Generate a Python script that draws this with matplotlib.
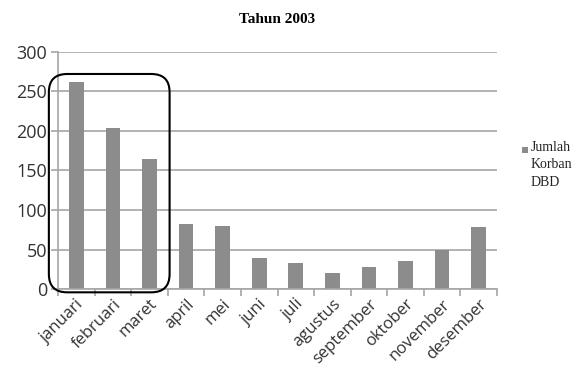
import matplotlib
matplotlib.use("Agg")
import matplotlib.pyplot as plt
from matplotlib.patches import FancyBboxPatch, Rectangle

# Data DBD tahun 2003
months = ["januari", "februari", "maret", "april", "mei", "juni", "juli",
          "agustus", "september", "oktober", "november", "desember"]
korban = [262, 204, 165, 82, 80, 40, 33, 21, 28, 35, 50, 78]
yticks = [0, 50, 100, 150, 200, 250, 300]
series_label = "Jumlah\nKorban\nDBD"

bar_color = "#8c8c8c"
grid_color = "#a6a6a6"
text_color = "#333333"

fig = plt.figure(figsize=(5.83, 3.84), dpi=100)
ax = fig.add_axes([0.0995, 0.247, 0.753, 0.618])

x = list(range(len(months)))
ax.bar(x, korban, width=0.4, color=bar_color, zorder=2)

ax.set_xlim(-0.5, len(months) - 0.5)
ax.set_ylim(0, 300)
ax.set_yticks(yticks)
ax.set_yticklabels([str(v) for v in yticks], fontsize=13, family="Open Sans", color=text_color)
ax.yaxis.grid(True, color=grid_color, linewidth=1.2, zorder=0)

ax.set_xticks(x)
ax.set_xticklabels(months, rotation=45, ha="right", rotation_mode="anchor",
                   fontsize=12, family="Open Sans", color=text_color)
ax.tick_params(axis="x", length=0, pad=5)
ax.set_xticks([i - 0.5 for i in range(len(months) + 1)], minor=True)
ax.tick_params(axis="x", which="minor", length=5, color=grid_color, width=1.2)
ax.tick_params(axis="y", length=5, color=grid_color, width=1.2, pad=3)

for side in ["top", "right"]:
    ax.spines[side].set_visible(False)
for side in ["left", "bottom"]:
    ax.spines[side].set_color(grid_color)
    ax.spines[side].set_linewidth(1.2)

# lingkaran tangan di sekitar 3 bulan pertama
box = FancyBboxPatch((-0.75, -4), 3.3, 276,
                     boxstyle="round,pad=0,rounding_size=0.5",
                     mutation_aspect=46, fill=False, edgecolor="black",
                     linewidth=1.5, clip_on=False, zorder=3)
ax.add_patch(box)

ax.set_title("Tahun 2003", fontsize=11, fontweight="bold", family="Liberation Serif", pad=21)

# legenda manual (kotak di samping baris pertama)
fig.patches.append(Rectangle((522 / 583, 1 - 153 / 384), 6 / 583, 6 / 384,
                             transform=fig.transFigure, facecolor=bar_color,
                             edgecolor="none"))
fig.text(531 / 583, 1 - 141 / 384, series_label, ha="left", va="top",
         family="Liberation Serif", fontsize=10, linespacing=1.45, color="#222222")

fig.savefig("out.png", dpi=100)
